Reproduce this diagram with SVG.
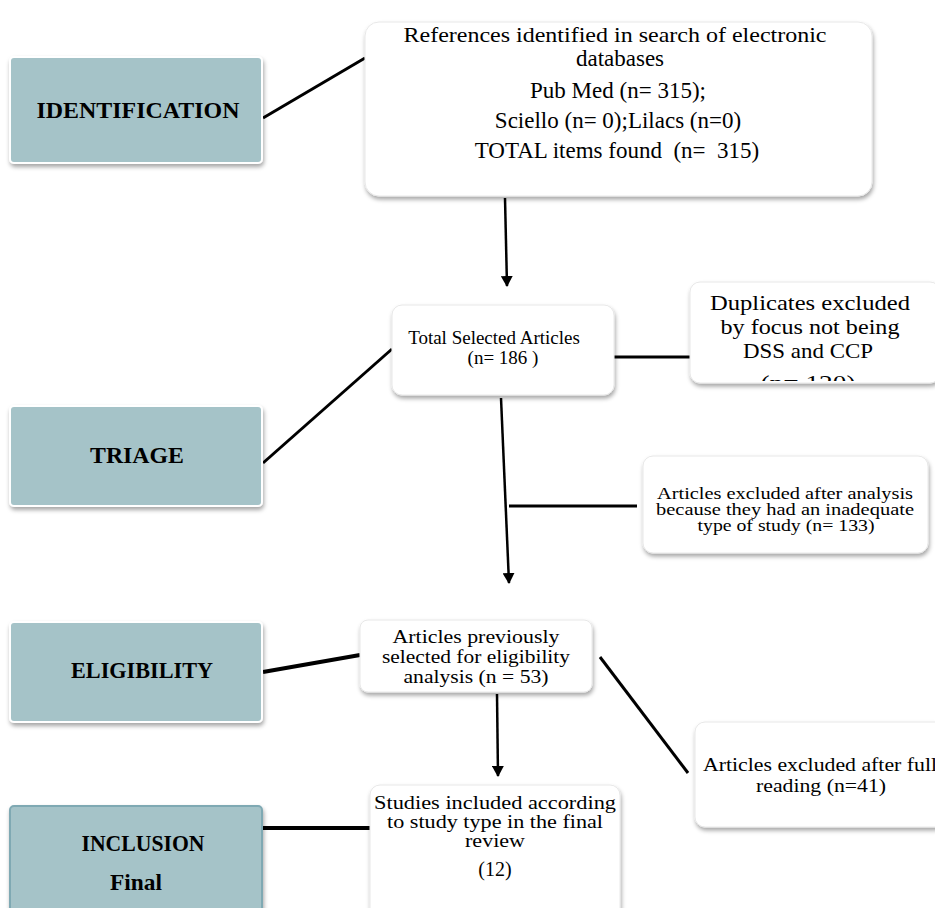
<svg xmlns="http://www.w3.org/2000/svg" width="935" height="908" viewBox="0 0 935 908">
<defs>
<filter id="sh" x="-10%" y="-10%" width="130%" height="140%">
<feDropShadow dx="1" dy="3" stdDeviation="2" flood-color="#000" flood-opacity="0.35"/>
</filter>
<marker id="ah" markerWidth="12" markerHeight="12" refX="10" refY="6" orient="auto" markerUnits="userSpaceOnUse" viewBox="0 0 12 12">
<path d="M0,0 L11,6 L0,12 Z" fill="#000"/>
</marker>
<clipPath id="dupclip"><rect x="690" y="282" width="245" height="99"/></clipPath>
<clipPath id="fullclip"><rect x="695" y="700" width="240" height="140"/></clipPath>
<style>
.stage{fill:#a5c3c8;stroke:#fff;stroke-width:2;filter:url(#sh)}
.box{fill:#fff;stroke:#e8e8e8;stroke-width:1;filter:url(#sh)}
.lbl{font-family:"Liberation Serif","Times New Roman",serif;font-weight:bold;font-size:23px;fill:#000;text-anchor:middle}
.t{font-family:"Liberation Serif","Times New Roman",serif;fill:#000;text-anchor:middle}
.ln{stroke:#000;stroke-width:3;fill:none}
.ar{stroke:#000;stroke-width:2.5;fill:none;marker-end:url(#ah)}
</style>
</defs>

<g id="connectors">
<line class="ln" x1="263" y1="118" x2="365" y2="58"/>
<line class="ar" x1="505" y1="198" x2="507" y2="286"/>
<line class="ln" x1="263" y1="463" x2="392" y2="349"/>
<line class="ln" x1="614" y1="357" x2="690" y2="357"/>
<line class="ar" x1="501" y1="398" x2="509" y2="583"/>
<line class="ln" x1="509" y1="506" x2="637" y2="506"/>
<line class="ln" x1="263" y1="672" x2="360" y2="655" style="stroke-width:4"/>
<line class="ar" x1="497" y1="694" x2="498" y2="776"/>
<line class="ln" x1="600" y1="657" x2="688" y2="773"/>
<line class="ln" x1="263" y1="828" x2="370" y2="828" style="stroke-width:4"/>
</g>

<g id="identification">
<rect class="stage" x="10" y="57" width="252" height="106" rx="4"/>
<text class="lbl" x="138" y="118" textLength="203" lengthAdjust="spacingAndGlyphs">IDENTIFICATION</text>
</g>

<g id="references">
<rect class="box" x="365" y="22" width="507" height="174" rx="14"/>
<text class="t" font-size="22" x="615" y="42" textLength="423" lengthAdjust="spacingAndGlyphs">References identified in search of electronic</text>
<text class="t" font-size="23" x="620" y="66">databases</text>
<text class="t" font-size="23" x="618" y="98">Pub Med (n= 315);</text>
<text class="t" font-size="23" x="618" y="128">Sciello (n= 0);Lilacs (n=0)</text>
<text class="t" font-size="23" x="617" y="158" xml:space="preserve">TOTAL items found  (n=  315)</text>
</g>

<g id="total-selected">
<rect class="box" x="392" y="305" width="222" height="90" rx="10"/>
<text class="t" font-size="19" x="494" y="344">Total Selected Articles</text>
<text class="t" font-size="19" x="503" y="364">(n= 186 )</text>
</g>

<g id="duplicates">
<rect class="box" x="690" y="282" width="250" height="101" rx="10"/>
<g clip-path="url(#dupclip)">
<text class="t" font-size="22" x="810" y="310" textLength="200" lengthAdjust="spacingAndGlyphs">Duplicates excluded</text>
<text class="t" font-size="22" x="810" y="334" textLength="179" lengthAdjust="spacingAndGlyphs">by focus not being</text>
<text class="t" font-size="22" x="808" y="358" textLength="130" lengthAdjust="spacingAndGlyphs">DSS and CCP</text>
<text class="t" font-size="22" x="808" y="390" textLength="95" lengthAdjust="spacingAndGlyphs">(n= 120)</text>
</g>
</g>

<g id="triage">
<rect class="stage" x="10" y="406" width="252" height="100" rx="4"/>
<text class="lbl" x="137" y="463" textLength="94" lengthAdjust="spacingAndGlyphs">TRIAGE</text>
</g>

<g id="excluded-analysis">
<rect class="box" x="643" y="456" width="285" height="97" rx="10"/>
<text class="t" font-size="16" x="785" y="499" textLength="256" lengthAdjust="spacingAndGlyphs">Articles excluded after analysis</text>
<text class="t" font-size="16" x="785" y="515" textLength="258" lengthAdjust="spacingAndGlyphs">because they had an inadequate</text>
<text class="t" font-size="16" x="786" y="531" textLength="177" lengthAdjust="spacingAndGlyphs">type of study (n= 133)</text>
</g>

<g id="eligibility">
<rect class="stage" x="10" y="622" width="252" height="100" rx="4"/>
<text class="lbl" x="142" y="678" textLength="142" lengthAdjust="spacingAndGlyphs">ELIGIBILITY</text>
</g>

<g id="previously-selected">
<rect class="box" x="360" y="620" width="232" height="72" rx="8"/>
<text class="t" font-size="19" x="476" y="643" textLength="167" lengthAdjust="spacingAndGlyphs">Articles previously</text>
<text class="t" font-size="19" x="476" y="663" textLength="188" lengthAdjust="spacingAndGlyphs">selected for eligibility</text>
<text class="t" font-size="19" x="476" y="683" textLength="145" lengthAdjust="spacingAndGlyphs">analysis (n = 53)</text>
</g>

<g id="excluded-full">
<rect class="box" x="695" y="722" width="250" height="105" rx="10"/>
<g clip-path="url(#fullclip)">
<text class="t" font-size="19" x="703" y="771" style="text-anchor:start" textLength="234" lengthAdjust="spacingAndGlyphs">Articles excluded after full</text>
<text class="t" font-size="19" x="821" y="792" textLength="130" lengthAdjust="spacingAndGlyphs">reading (n=41)</text>
</g>
</g>

<g id="inclusion">
<rect class="stage" x="10" y="806" width="252" height="110" rx="4" style="stroke:#7fa9b3"/>
<text class="lbl" x="143" y="851" textLength="123" lengthAdjust="spacingAndGlyphs">INCLUSION</text>
<text class="lbl" x="136" y="890" font-size="21" textLength="52" lengthAdjust="spacingAndGlyphs">Final</text>
</g>

<g id="studies-included">
<rect class="box" x="370" y="785" width="250" height="135" rx="10"/>
<text class="t" font-size="19" x="495" y="809" textLength="242" lengthAdjust="spacingAndGlyphs">Studies included according</text>
<text class="t" font-size="19" x="495" y="828" textLength="216" lengthAdjust="spacingAndGlyphs">to study type in the final</text>
<text class="t" font-size="19" x="495" y="847" textLength="60" lengthAdjust="spacingAndGlyphs">review</text>
<text class="t" font-size="20" x="495" y="876">(12)</text>
</g>
</svg>
